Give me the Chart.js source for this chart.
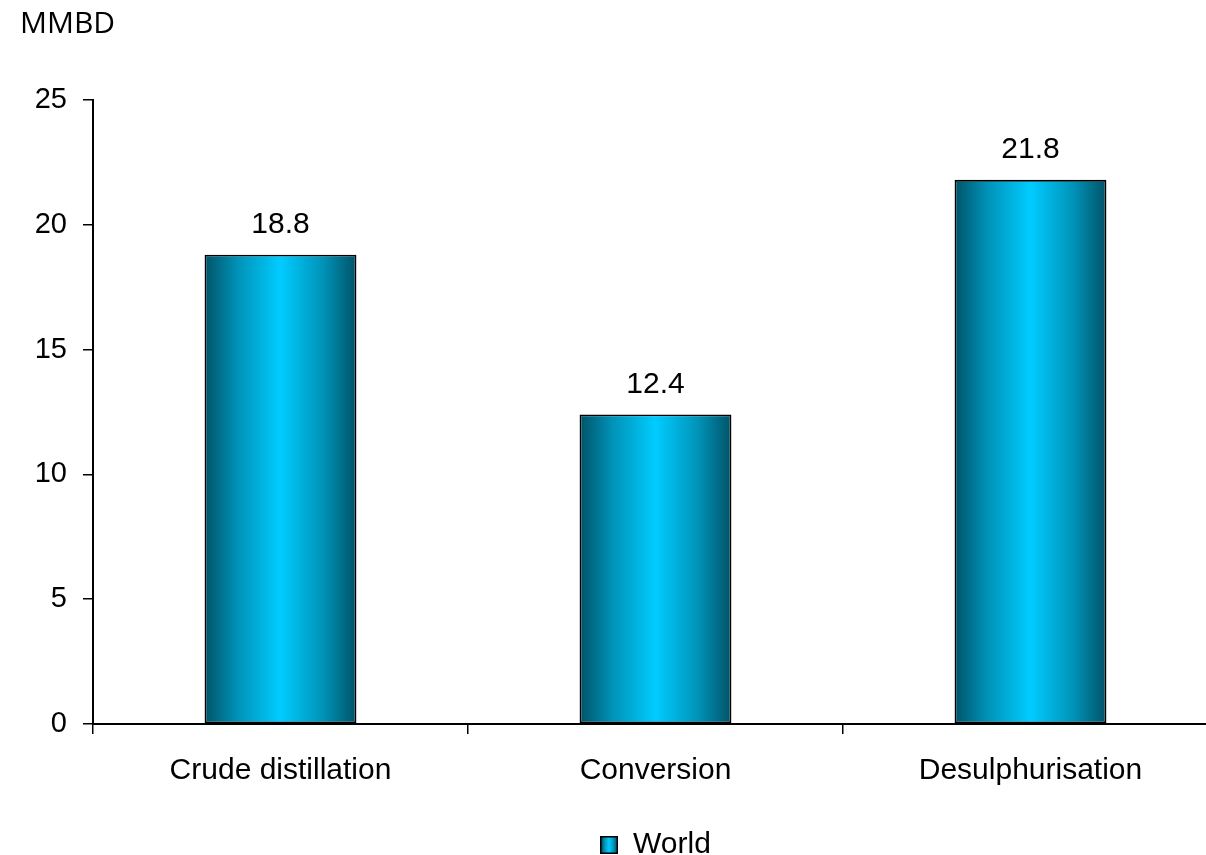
<!DOCTYPE html>
<html>
<head>
<meta charset="utf-8">
<script src="https://cdn.jsdelivr.net/npm/chart.js@4.4.1/dist/chart.umd.min.js"></script>
<style>
  html, body { margin: 0; padding: 0; overflow: hidden; background: #ffffff; }
  #wrap { width: 1220px; height: 870px; }
</style>
</head>
<body>
<div id="wrap"><canvas id="chart" width="1220" height="870"></canvas></div>
<script>
// Refining capacity additions by process type
const categories = ['Crude distillation', 'Conversion', 'Desulphurisation'];
const worldValues = [18.8, 12.4, 21.8];
const seriesName = 'World';
const unitLabel = 'MMBD';
const yAxisMin = 0;
const yAxisMax = 25;
const yAxisStep = 5;

const BAR_FRACTION = 0.405;
const EDGE = '#005368';
const SHOULDER = '#0093b8';
const MID = '#00ccff';
const SANS = '"Liberation Sans", Arial, sans-serif';

function cylinderGradient(ctx, left, right) {
  const g = ctx.createLinearGradient(left, 0, right, 0);
  g.addColorStop(0, EDGE);
  g.addColorStop(0.22, SHOULDER);
  g.addColorStop(0.5, MID);
  g.addColorStop(0.78, SHOULDER);
  g.addColorStop(1, EDGE);
  return g;
}

// Small shaded swatch used as the legend marker
function legendSwatch() {
  const s = 18;
  const c = document.createElement('canvas');
  c.width = s; c.height = s;
  const g = c.getContext('2d');
  g.fillStyle = cylinderGradient(g, 1, s - 1);
  g.fillRect(1, 1, s - 2, s - 2);
  g.strokeStyle = '#000';
  g.lineWidth = 1.5;
  g.strokeRect(0.75, 0.75, s - 1.5, s - 1.5);
  return c;
}

// Value printed above each bar
const valueLabels = {
  id: 'valueLabels',
  afterDatasetsDraw(chart) {
    const ctx = chart.ctx;
    const meta = chart.getDatasetMeta(0);
    ctx.save();
    ctx.font = '30px ' + SANS;
    ctx.fillStyle = '#000';
    ctx.textAlign = 'center';
    ctx.textBaseline = 'middle';
    meta.data.forEach((bar, i) => {
      ctx.fillText(worldValues[i].toFixed(1), bar.x, bar.y - 30);
    });
    ctx.restore();
  }
};

new Chart(document.getElementById('chart'), {
  type: 'bar',
  data: {
    labels: categories,
    datasets: [{
      label: seriesName,
      data: worldValues,
      backgroundColor: (c) => {
        const chart = c.chart;
        const x = chart.scales && chart.scales.x;
        if (!chart.chartArea || !x || c.dataIndex === undefined) return MID;
        const center = x.getPixelForValue(c.dataIndex);
        const half = (x.width / categories.length) * BAR_FRACTION / 2;
        return cylinderGradient(chart.ctx, center - half, center + half);
      },
      borderColor: '#000000',
      borderWidth: 1.8,
      borderSkipped: false,
      categoryPercentage: 1.0,
      barPercentage: BAR_FRACTION,
      pointStyle: legendSwatch()
    }]
  },
  options: {
    responsive: false,
    animation: false,
    devicePixelRatio: 1,
    layout: { padding: { left: 20, right: 2, top: 0, bottom: 0 } },
    plugins: {
      title: {
        display: true,
        text: unitLabel,
        align: 'start',
        color: '#000',
        font: { family: '"Open Sans", sans-serif', size: 30, weight: 'normal', lineHeight: 1.2 },
        padding: { top: 6, bottom: 58 }
      },
      legend: {
        position: 'bottom',
        fullSize: false,
        labels: {
          usePointStyle: true,
          boxWidth: 18,
          boxHeight: 18,
          color: '#000',
          font: { family: SANS, size: 30 },
          padding: 10
        }
      },
      tooltip: { enabled: false }
    },
    scales: {
      x: {
        grid: {
          offset: true,
          drawOnChartArea: false,
          drawTicks: true,
          tickLength: 10,
          color: '#000',
          lineWidth: 1.5
        },
        border: { color: '#000', width: 2 },
        ticks: { color: '#000', font: { family: SANS, size: 30 }, padding: 19 },
        afterFit: (scale) => { scale.height = 96; }
      },
      y: {
        min: yAxisMin,
        max: yAxisMax,
        grid: {
          drawOnChartArea: false,
          drawTicks: true,
          tickLength: 10,
          color: '#000',
          lineWidth: 1.5
        },
        border: { color: '#000', width: 2 },
        ticks: { stepSize: yAxisStep, color: '#000', font: { family: SANS, size: 29 }, padding: 16 },
        afterFit: (scale) => { scale.width = 73; }
      }
    }
  },
  plugins: [valueLabels]
});
</script>
</body>
</html>
